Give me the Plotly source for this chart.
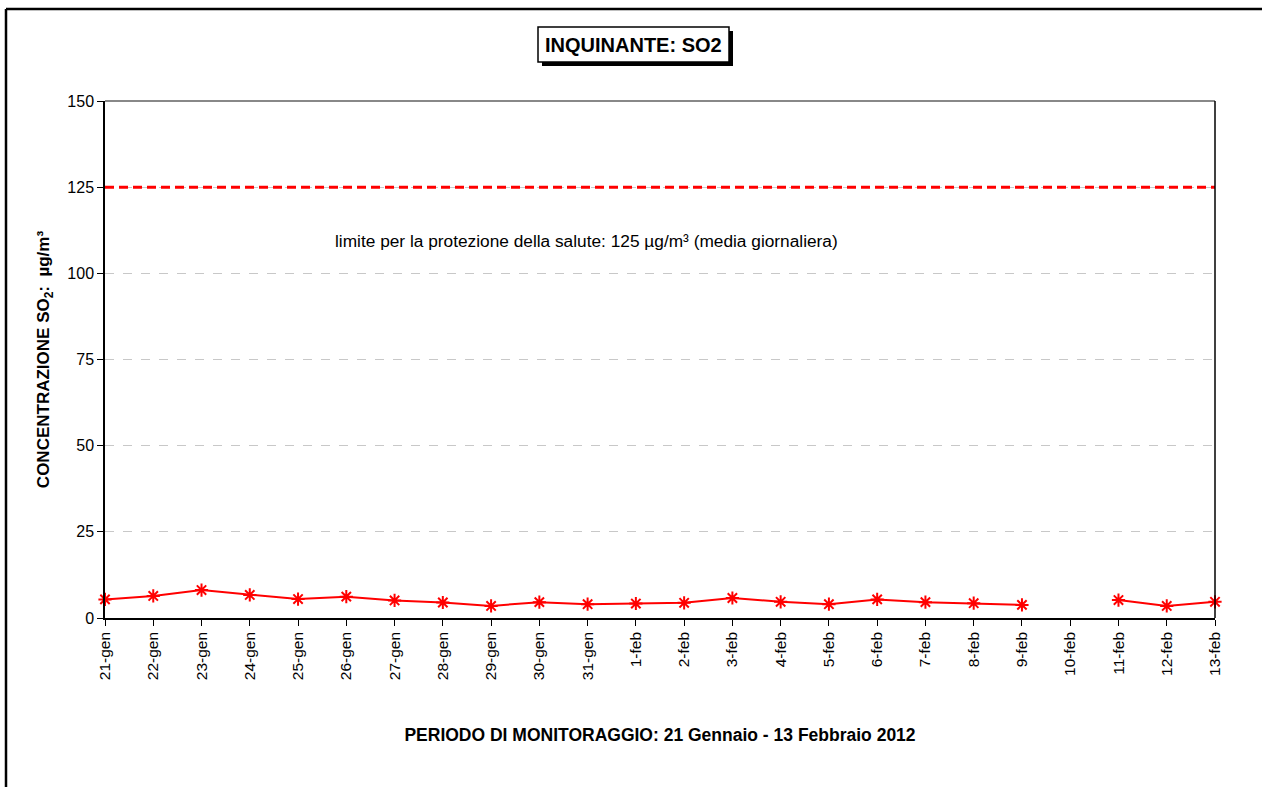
import plotly.graph_objects as go

# dati giornalieri SO2 (µg/m³)
giorni = ['21-gen', '22-gen', '23-gen', '24-gen', '25-gen', '26-gen', '27-gen', '28-gen',
          '29-gen', '30-gen', '31-gen', '1-feb', '2-feb', '3-feb', '4-feb', '5-feb',
          '6-feb', '7-feb', '8-feb', '9-feb', '10-feb', '11-feb', '12-feb', '13-feb']
so2 = [5.4, 6.4, 8.1, 6.7, 5.5, 6.2, 5.1, 4.5, 3.5, 4.6, 4.0, 4.2,
       4.4, 5.8, 4.7, 4.0, 5.4, 4.6, 4.3, 3.8, None, 5.2, 3.5, 4.7]
limite = [125] * len(giorni)
y_ticks = [0, 25, 50, 75, 100, 125, 150]

FONT = 'Liberation Sans, Arial, sans-serif'

fig = go.Figure()

# limite giornaliero (linea tratteggiata rossa)
fig.add_trace(go.Scatter(
    x=giorni, y=limite, mode='lines',
    line=dict(color='#ff0000', width=3, dash='9px,5px'),
    showlegend=False, hoverinfo='skip', cliponaxis=False
))

# concentrazioni misurate
fig.add_trace(go.Scatter(
    x=giorni, y=so2, mode='lines+markers',
    line=dict(color='#ff0000', width=2),
    marker=dict(symbol='asterisk-open', size=11, color='#ff0000',
                line=dict(color='#ff0000', width=2)),
    connectgaps=False, showlegend=False, cliponaxis=False
))

fig.update_layout(
    width=1262, height=787,
    plot_bgcolor='white', paper_bgcolor='white',
    margin=dict(l=105, r=47, t=101, b=169),
    font=dict(family=FONT, size=16, color='black'),
    xaxis=dict(
        type='category', range=[0, len(giorni) - 1],
        tickangle=-90, tickfont=dict(size=15.5),
        ticks='outside', ticklen=6, tickcolor='black',
        showline=True, linecolor='black', linewidth=1.5,
        showgrid=False, zeroline=False,
        title=dict(text='<b>PERIODO DI MONITORAGGIO: 21 Gennaio - 13 Febbraio 2012</b>',
                   font=dict(size=17.5), standoff=50),
    ),
    yaxis=dict(
        range=[0, 150], tickvals=y_ticks, tickfont=dict(size=16),
        ticks='outside', ticklen=6, tickcolor='black',
        showline=True, linecolor='black', linewidth=1.5,
        showgrid=True, gridcolor='#c8c8c8', griddash='dash', gridwidth=1,
        zeroline=False,
        title=dict(text='<b>CONCENTRAZIONE SO<sub>2</sub>:  µg/m³</b>',
                   font=dict(size=17), standoff=13),
    ),
)

# bordo superiore grigio e destro nero dell'area grafico
fig.add_shape(type='line', xref='paper', yref='paper', x0=0, x1=1, y0=1, y1=1,
              line=dict(color='#606060', width=1.5))
fig.add_shape(type='line', xref='paper', yref='paper', x0=1, x1=1, y0=0, y1=1,
              line=dict(color='black', width=1.5))

# cornice esterna (lati sinistro e superiore)
fig.add_shape(type='line', xref='paper', yref='paper',
              x0=(6 - 105) / 1110, x1=(1262 - 105) / 1110,
              y0=(618 - 9) / 517, y1=(618 - 9) / 517,
              line=dict(color='black', width=2.5))
fig.add_shape(type='line', xref='paper', yref='paper',
              x0=(6 - 105) / 1110, x1=(6 - 105) / 1110,
              y0=(618 - 9) / 517, y1=(618 - 800) / 517,
              line=dict(color='black', width=2.5))

# titolo in riquadro con ombra
fig.add_shape(type='rect', xref='paper', yref='paper',
              x0=(542 - 105) / 1110, x1=(733 - 105) / 1110,
              y0=(618 - 66) / 517, y1=(618 - 31) / 517,
              fillcolor='black', line=dict(width=0), layer='below')
fig.add_shape(type='rect', xref='paper', yref='paper',
              x0=(538 - 105) / 1110, x1=(729 - 105) / 1110,
              y0=(618 - 62) / 517, y1=(618 - 27) / 517,
              fillcolor='white', line=dict(color='black', width=1.5), layer='below')
fig.add_annotation(text='<b>INQUINANTE: SO2</b>', xref='paper', yref='paper',
                   x=(633.5 - 105) / 1110, y=(618 - 44.5) / 517,
                   showarrow=False, font=dict(size=20), xanchor='center', yanchor='middle')

# testo del limite
fig.add_annotation(text='limite per la protezione della salute: 125 µg/m³ (media giornaliera)',
                   xref='paper', yref='paper', x=(333 - 105) / 1110, y=(618 - 241) / 517,
                   showarrow=False, font=dict(size=17.3), xanchor='left', yanchor='middle')

fig.write_html("out.html", config={'displayModeBar': False},
               post_script="document.body.style.margin='0';")
